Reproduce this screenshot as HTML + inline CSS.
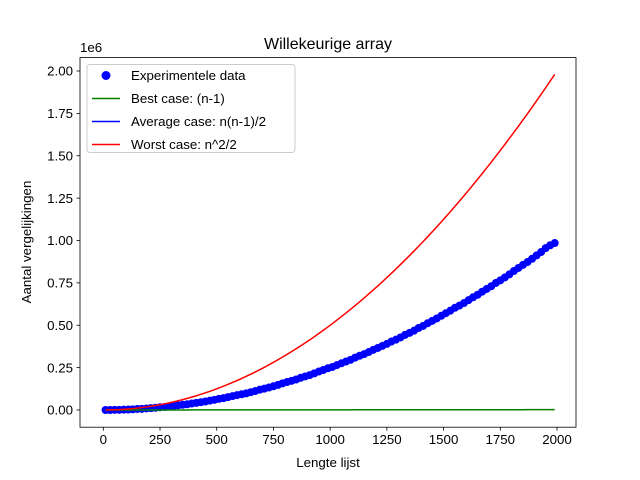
<!DOCTYPE html>
<html><head><meta charset="utf-8"><style>
body{margin:0;background:#fff;}
svg{display:block;font-family:"Liberation Sans","DejaVu Sans",sans-serif;}
</style></head><body>
<svg id="chart" width="640" height="480" viewBox="0 0 640 480">
<rect width="640" height="480" fill="#fff"/>
<g id="plot"></g>
</svg>
<script>
const nValues=[10,30,50,70,90,110,130,150,170,190,210,230,250,270,290,310,330,350,370,390,410,430,450,470,490,510,530,550,570,590,610,630,650,670,690,710,730,750,770,790,810,830,850,870,890,910,930,950,970,990,1010,1030,1050,1070,1090,1110,1130,1150,1170,1190,1210,1230,1250,1270,1290,1310,1330,1350,1370,1390,1410,1430,1450,1470,1490,1510,1530,1550,1570,1590,1610,1630,1650,1670,1690,1710,1730,1750,1770,1790,1810,1830,1850,1870,1890,1910,1930,1950,1970,1990];
const comparisons=[0,0,1,1,2,3,4,6,7,9,11,13,16,18,21,24,28,31,34,38,42,46,50,55,60,66,70,76,82,88,93,98,105,112,120,126,133,140,148,157,165,172,180,190,198,206,216,227,236,246,254,265,276,286,296,309,320,330,342,355,366,378,390,404,415,428,443,455,468,484,496,512,526,540,556,571,586,603,616,631,648,665,680,698,714,730,749,765,782,800,820,838,856,873,892,912,932,955,972,985];
const xTicks=[0,250,500,750,1000,1250,1500,1750,2000];
const yTicks=[0,0.25,0.5,0.75,1.0,1.25,1.5,1.75,2.0];
const yTickLabels=["0.00","0.25","0.50","0.75","1.00","1.25","1.50","1.75","2.00"];
const L=80,R=576,T=57.6,B=427.2;
const x=v=>103.3+v*0.22685;
const y=v=>410-v*169.5; // v in millions
const NS="http://www.w3.org/2000/svg";
const g=document.getElementById('plot');
function mk(tag,attrs,parent){const e=document.createElementNS(NS,tag);for(const k in attrs)e.setAttribute(k,attrs[k]);(parent||g).appendChild(e);return e;}
// ticks
xTicks.forEach(t=>{
 const l=mk('line',{x1:x(t),x2:x(t),y1:B,y2:B+3.5,stroke:'#000','stroke-width':0.8});
 
 
 const tx=mk('text',{x:x(t),y:B+17,'font-size':'13.3','text-anchor':'middle'});tx.textContent=t;
 
 
});
yTicks.forEach((t,i)=>{
 const l=mk('line',{x1:L-3.5,x2:L,y1:y(t),y2:y(t),stroke:'#000','stroke-width':0.8});
 
 
 const tx=mk('text',{x:L-7,y:y(t)+4.7,'font-size':'13.3','text-anchor':'end'});tx.textContent=yTickLabels[i];
 
 
});
function line(fn,color,name){
 let d='';for(let n=10;n<=1990;n+=20){d+=(d?'L':'M')+x(n).toFixed(2)+','+y(fn(n)/1e6).toFixed(2);}
 const p=mk('path',{d:d,fill:'none',stroke:color,'stroke-width':1.5});
 
 
}
line(n=>n*(n-1)/4,'#0000ff','average-case-line');
nValues.forEach((n,i)=>{
 const c=mk('circle',{cx:x(n),cy:y(comparisons[i]/1000),r:4,fill:'#0000ff'});
 
 
});
line(n=>n-1,'#008000','best-case-line');
line(n=>n*n/2,'#ff0000','worst-case-line');
// frame
const fr=mk('rect',{x:L,y:T,width:R-L,height:B-T,fill:'none',stroke:'#000','stroke-width':0.8});


</script>
<svg x="0" y="0" width="640" height="480" style="position:absolute;left:0;top:0">
</svg>
<script>
(function(){
const NS="http://www.w3.org/2000/svg";const s=document.getElementById('chart');
function mk(tag,attrs,txt){const e=document.createElementNS(NS,tag);for(const k in attrs)e.setAttribute(k,attrs[k]);if(txt)e.textContent=txt;s.appendChild(e);return e;}
let e;
e=mk('text',{x:328,y:49,'font-size':'16','text-anchor':'middle'},'Willekeurige array');

e=mk('text',{x:80,y:52,'font-size':'13.3'},'1e6');

e=mk('text',{x:328,y:467,'font-size':'13.3','text-anchor':'middle'},'Lengte lijst');

e=mk('text',{x:31,y:242,'font-size':'13.3','text-anchor':'middle',transform:'rotate(-90 31 242)'},'Aantal vergelijkingen');

e=mk('rect',{x:87,y:64.5,width:208,height:88,rx:3,fill:'#fff','fill-opacity':0.8,stroke:'#ccc','stroke-width':1});

const items=[['Experimentele data','#0000ff','dot'],['Best case: (n-1)','#008000','line'],['Average case: n(n-1)/2','#0000ff','line'],['Worst case: n^2/2','#ff0000','line']];
items.forEach((it,i)=>{const yy=75.5+i*23;
 if(it[2]==='dot'){e=mk('circle',{cx:106,cy:yy,r:4.5,fill:it[1]});}
 else{e=mk('line',{x1:92,x2:120,y1:yy,y2:yy,stroke:it[1],'stroke-width':1.5});}
 
 e=mk('text',{x:131,y:yy+4.7,'font-size':'13.3'},it[0]);
 
});
})();
</script>
</body></html>
